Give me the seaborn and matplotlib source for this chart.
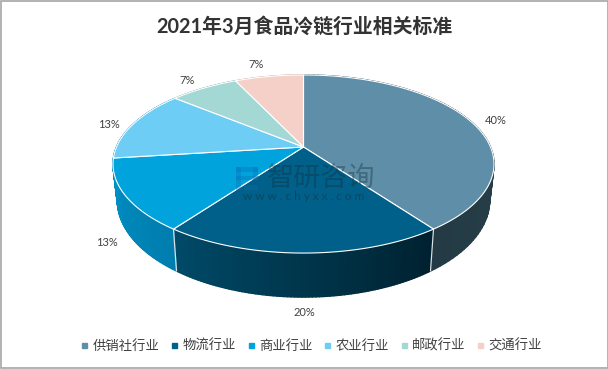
import numpy as np
import matplotlib
matplotlib.use('Agg')
import matplotlib.pyplot as plt
from matplotlib.collections import PolyCollection
from matplotlib.colors import to_rgb
from matplotlib.lines import Line2D
from matplotlib.patches import Polygon, Rectangle
import seaborn as sns

# datos
titulo = '2021年3月食品冷链行业相关标准'
categorias = ['供销社行业', '物流行业', '商业行业', '农业行业', '邮政行业', '交通行业']
valores = [40, 20, 13, 13, 7, 7]
colores = ['#5f8fa8', '#00608a', '#00a3dc', '#6dcdf5', '#a3d8d5', '#f5d0c8']
pared_ini = ['#2a4650', '#00212f', '#007dae', '#0090c4', '#80b0ad', '#c9a8a2']
pared_fin = ['#243b45', '#004a68', '#0090c4', '#0090c4', '#80b0ad', '#c9a8a2']
pos_etiquetas = [(496, 120), (304, 312), (107, 242), (109, 124), (187, 81), (256, 65)]

sns.set_theme(style='white')
plt.rcParams['font.family'] = ['Lato', 'Noto Sans CJK SC', 'DejaVu Sans']
paleta = sns.color_palette(colores)

fig = plt.figure(figsize=(6.08, 3.69), dpi=100)
ax = fig.add_axes([0, 0, 1, 1])
ax.set_xlim(0, 608)
ax.set_ylim(369, 0)
ax.axis('off')

# proyeccion en perspectiva del disco
cx, cy = 303.5, 147
a, b, k = 187, 85.8, 0.191


def arriba(theta):
    u, v = np.sin(theta), np.cos(theta)
    d = 1 + k * v
    return cx + a * u / d, cy - b * v / d


def abajo(theta):
    x, y = arriba(theta)
    return cx + 0.977 * (x - cx), cy + 1.087 * (y - cy) + 34.8


fronteras = np.radians(np.cumsum([0] + valores) * 3.6)

# paredes laterales con degradado
for i in range(len(valores)):
    t = np.linspace(fronteras[i], fronteras[i + 1], 80)
    c0, c1 = np.array(to_rgb(pared_ini[i])), np.array(to_rgb(pared_fin[i]))
    tiras, cols = [], []
    for j in range(len(t) - 1):
        x0, y0 = arriba(t[j])
        x1, y1 = arriba(t[j + 1])
        x2, y2 = abajo(t[j + 1])
        x3, y3 = abajo(t[j])
        tiras.append([(x0, y0), (x1, y1), (x2, y2), (x3, y3)])
        cols.append(c0 + (c1 - c0) * j / (len(t) - 2))
    ax.add_collection(PolyCollection(tiras, facecolors=cols, edgecolors=cols, linewidths=1.0, zorder=1))

# lineas blancas entre paredes
for f in fronteras[[1, 2]]:
    x0, y0 = arriba(f)
    x1, y1 = abajo(f)
    ax.plot([x0, x1], [y0, y1], color='#d8e0e4', lw=0.9, zorder=2)

# cara superior
for i in range(len(valores)):
    t = np.linspace(fronteras[i], fronteras[i + 1], 120)
    xs, ys = arriba(t)
    pts = np.column_stack([np.r_[cx, xs], np.r_[cy, ys]])
    ax.add_patch(Polygon(pts, closed=True, facecolor=paleta[i], edgecolor='white', lw=0.8, zorder=3))

# etiquetas de datos
for v, (x, y) in zip(valores, pos_etiquetas):
    ax.text(x, y, f'{v}%', ha='center', va='center', fontsize=8, color='#404040', zorder=5)

# marca de agua
for r in [(236, 167, 22, 5), (253, 167, 5, 13), (236, 176, 22, 4), (236, 167, 5, 23), (244, 185, 14, 5)]:
    ax.add_patch(Rectangle(r[:2], r[2], r[3], facecolor='#0a6eb4', edgecolor='none', alpha=0.35, zorder=4))
ax.text(321, 178, '智研咨询', ha='center', va='center', fontsize=19.5, color='#12303c', alpha=0.4, zorder=4)
ax.text(304, 197, 'w w w . c h y x x . c o m', ha='center', va='center', fontsize=8.5,
        color='#12303c', alpha=0.5, zorder=4)

ax.text(304, 27, titulo, ha='center', va='center', fontsize=14.3, fontweight='bold', color='#333333')

manijas = [Line2D([], [], ls='none', marker='s', ms=3.6, color=c) for c in paleta]
ax.legend(manijas, categorias, ncol=6, loc='center', bbox_to_anchor=(311 / 608, 1 - 345 / 369),
          frameon=False, fontsize=9.6, labelcolor='#404040', handlelength=0.6, handletextpad=0.3,
          columnspacing=0.82, borderpad=0, borderaxespad=0)

# marco de la imagen
ax.add_patch(Rectangle((0.5, 0.5), 607, 367.5, fill=False, edgecolor='#a6a6a6', lw=1.2, zorder=6))

fig.savefig('out.png', dpi=100)
